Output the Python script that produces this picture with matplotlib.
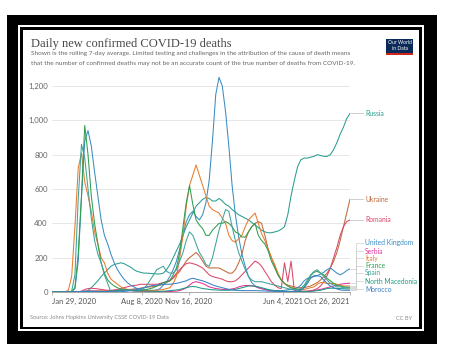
import numpy as np
import pandas as pd
import matplotlib
matplotlib.use("Agg")
import matplotlib.pyplot as plt
from matplotlib.patches import Rectangle

# weekly samples, Jan 29 2020 -> Oct 26 2021 (7-day avg deaths)
dates = pd.date_range("2020-01-29", "2021-10-26", periods=92)

italy = [0, 0, 0, 0, 0.5, 10, 90, 380, 720, 810,
         640, 560, 470, 350, 280, 200, 170, 110, 75, 60,
         45, 30, 20, 15, 12, 10, 8, 7, 6, 7,
         9, 8, 10, 12, 15, 20, 25, 50, 90, 200,
         330, 500, 620, 680, 740, 680, 620, 560, 500, 480,
         470, 460, 430, 400, 330, 300, 290, 310, 330, 380,
         420, 440, 460, 400, 340, 300, 250, 200, 160, 110,
         70, 50, 35, 25, 20, 15, 12, 15, 20, 25,
         30, 45, 55, 55, 50, 50, 50, 45, 40, 35,
         35, 35]
uk = [0, 0, 0, 0, 0, 0, 1, 20, 180, 550,
      880, 940, 850, 700, 560, 420, 330, 280, 220, 170,
      130, 100, 75, 55, 40, 30, 20, 15, 12, 10,
      10, 10, 12, 20, 40, 60, 90, 130, 180, 250,
      330, 410, 450, 470, 440, 420, 450, 520, 650, 880,
      1150, 1250, 1200, 1050, 850, 620, 450, 320, 220, 150,
      90, 55, 35, 25, 20, 15, 12, 10, 9, 9,
      8, 10, 13, 17, 18, 25, 40, 65, 80, 85,
      90, 95, 105, 115, 130, 140, 125, 110, 100, 110,
      125, 135]
france = [0, 0, 0, 0, 0, 0, 3, 25, 220, 560,
          970, 800, 560, 400, 280, 170, 110, 70, 50, 35,
          25, 15, 15, 12, 10, 10, 10, 10, 12, 15,
          20, 25, 35, 45, 55, 60, 65, 100, 140, 230,
          380, 520, 620, 510, 420, 390, 370, 330, 330, 360,
          380, 400, 400, 410, 400, 380, 350, 340, 320, 320,
          350, 380, 400, 330, 300, 280, 240, 180, 140, 100,
          70, 50, 35, 25, 20, 15, 15, 30, 60, 95,
          115, 120, 110, 100, 80, 65, 50, 40, 35, 30,
          28, 28]
spain = [0, 0, 0, 0, 0, 0, 5, 100, 540, 860,
         780, 600, 430, 300, 220, 170, 100, 50, 0, 5,
         10, 15, 15, 10, 10, 5, 5, 10, 20, 40,
         70, 100, 130, 140, 150, 120, 110, 110, 130, 180,
         230, 300, 350, 330, 280, 230, 200, 160, 150, 200,
         280, 360, 420, 480, 470, 380, 300, 230, 180, 130,
         90, 70, 60, 60, 60, 55, 50, 45, 40, 35,
         30, 25, 20, 15, 15, 15, 20, 40, 70, 100,
         120, 130, 110, 90, 70, 50, 40, 30, 30, 25,
         25, 25]
russia = [0, 0, 0, 0, 0, 0, 0, 0, 0, 0.5,
          2, 8, 25, 45, 65, 90, 110, 130, 150, 160,
          165, 170, 165, 155, 145, 130, 120, 115, 110, 110,
          108, 107, 105, 105, 110, 130, 160, 200, 240, 280,
          330, 380, 420, 460, 500, 520, 540, 550, 545, 530,
          530, 545, 530, 510, 500, 480, 465, 450, 440, 430,
          420, 405, 390, 375, 360, 350, 345, 345, 350, 355,
          365, 380, 450, 560, 650, 730, 770, 780, 780, 785,
          790, 800, 795, 790, 790, 800, 830, 870, 920, 960,
          1010, 1040]
ukraine = [0, 0, 0, 0, 0, 0, 0, 0, 0, 1,
           3, 4, 5, 6, 7, 7, 7, 7, 8, 9,
           10, 12, 15, 15, 15, 18, 20, 22, 25, 28,
           30, 33, 35, 40, 45, 55, 65, 80, 100, 120,
           150, 180, 200, 215, 230, 210, 180, 150, 140, 140,
           140, 140, 130, 120, 110, 110, 130, 170, 220, 300,
           350, 380, 400, 410, 400, 330, 250, 200, 150, 100,
           70, 50, 40, 35, 30, 25, 25, 25, 30, 35,
           45, 55, 70, 90, 110, 140, 180, 230, 300, 380,
           460, 540]
romania = [0, 0, 0, 0, 0, 0, 0, 0, 1, 5,
           15, 20, 22, 20, 18, 15, 12, 10, 10, 12,
           15, 20, 25, 30, 35, 38, 40, 45, 45, 45,
           45, 45, 45, 50, 55, 60, 70, 85, 110, 130,
           150, 165, 170, 165, 160, 150, 140, 120, 100, 90,
           85, 80, 75, 65, 60, 60, 65, 80, 100, 120,
           140, 160, 180, 170, 150, 120, 90, 60, 40, 25,
           20, 170, 60, 180, 10, 5, 5, 5, 6, 8,
           12, 20, 35, 60, 95, 140, 200, 260, 330, 380,
           410, 420]
serbia = [0, 0, 0, 0, 0, 0, 0, 0, 0, 2,
          4, 5, 5, 4, 3, 2, 1, 1, 1, 3,
          5, 8, 10, 12, 8, 6, 5, 4, 3, 3,
          2, 2, 2, 2, 2, 3, 3, 4, 5, 8,
          15, 25, 40, 55, 60, 55, 50, 40, 30, 25,
          20, 18, 15, 15, 15, 18, 22, 30, 35, 38,
          38, 36, 32, 25, 20, 15, 10, 7, 5, 4,
          3, 3, 2, 2, 2, 2, 2, 2, 3, 5,
          8, 12, 15, 20, 25, 30, 35, 40, 45, 48,
          50, 52]
north_macedonia = [0, 0, 0, 0, 0, 0, 0, 0, 0, 1,
                   2, 3, 3, 3, 2, 2, 2, 3, 5, 6,
                   8, 10, 12, 12, 10, 9, 8, 7, 6, 5,
                   5, 4, 4, 4, 5, 6, 8, 10, 12, 15,
                   20, 25, 30, 32, 30, 25, 20, 18, 15, 13,
                   12, 11, 10, 10, 10, 12, 15, 20, 25, 30,
                   35, 35, 35, 30, 25, 20, 15, 10, 8, 6,
                   5, 4, 3, 2, 2, 2, 2, 2, 3, 4,
                   5, 8, 10, 15, 20, 22, 22, 21, 20, 19,
                   18, 18]
morocco = [0, 0, 0, 0, 0, 0, 0, 0, 1, 3,
           5, 5, 4, 4, 3, 3, 2, 2, 1, 1,
           1, 2, 3, 5, 8, 12, 15, 20, 25, 30,
           35, 38, 40, 42, 45, 45, 45, 48, 50, 55,
           60, 65, 75, 80, 75, 70, 65, 58, 50, 42,
           35, 30, 25, 20, 15, 12, 10, 9, 8, 8,
           8, 8, 8, 7, 7, 6, 5, 5, 4, 4,
           3, 3, 4, 4, 5, 7, 10, 25, 50, 80,
           95, 95, 90, 70, 50, 35, 25, 18, 12, 10,
           10, 10]

series = {
    "Russia": (russia, "#2a9d8f"),
    "Ukraine": (ukraine, "#c0693a"),
    "Romania": (romania, "#d9476b"),
    "United Kingdom": (uk, "#3a8dc2"),
    "Serbia": (serbia, "#e0359b"),
    "Italy": (italy, "#ea7b2c"),
    "France": (france, "#2e9e4f"),
    "Spain": (spain, "#3fa39a"),
    "North Macedonia": (north_macedonia, "#1f9a86"),
    "Morocco": (morocco, "#3a7fc4"),
}
label_y = {"Russia": None, "Ukraine": None, "Romania": None,
           "United Kingdom": 243, "Serbia": 251, "Italy": 258, "France": 266,
           "Spain": 273, "North Macedonia": 281, "Morocco": 289}

yticks = [0, 200, 400, 600, 800, 1000, 1200]
xtick_dates = ["2020-01-29", "2020-08-08", "2020-11-16", "2021-06-04", "2021-10-26"]
xtick_labels = ["Jan 29, 2020", "Aug 8, 2020", "Nov 16, 2020", "Jun 4, 2021", "Oct 26, 2021"]

W, H = 449, 361
fig = plt.figure(figsize=(W / 100, H / 100), dpi=100)
fig.patch.set_facecolor("white")


def px(x, y):
    return x / W, 1 - y / H


def frame(x0, y0, x1, y1, color, z):
    fx, fy = px(x0, y1)
    fig.add_artist(Rectangle((fx, fy), (x1 - x0) / W, (y1 - y0) / H,
                             transform=fig.transFigure, facecolor=color,
                             edgecolor="none", zorder=z))


frame(7, 15, 437, 344, "black", -10)
frame(18, 25, 424, 331, "white", -9)
frame(20, 27, 421.5, 329, "black", -8)
frame(23, 30, 419, 327, "white", -7)

ax_l, ax_r, ax_b = 52, 350, 292
ymax = 1260
ax_t = ax_b - ymax * 0.1717
ax = fig.add_axes([ax_l / W, 1 - ax_b / H, (ax_r - ax_l) / W, (ax_b - ax_t) / H])
ax.patch.set_alpha(0)

for name, (vals, col) in series.items():
    ax.plot(dates, vals, color=col, lw=0.75, solid_joinstyle="round")

x0, x1 = pd.Timestamp("2020-01-29"), pd.Timestamp("2021-10-26")
ax.set_xlim(x0, x1)
ax.set_ylim(0, ymax)
for s in ["top", "right", "left"]:
    ax.spines[s].set_visible(False)
ax.spines["bottom"].set_color("#9a9a9a")
ax.spines["bottom"].set_linewidth(0.6)
ax.set_yticks(yticks)
ax.set_yticklabels([f"{v:,}" for v in yticks])
ax.tick_params(axis="y", length=0, pad=3, labelsize=5.6, labelcolor="#666666")
ax.grid(axis="y", color="#e3e3e3", lw=0.6)
ax.set_axisbelow(True)
ax.set_xticks(pd.to_datetime(xtick_dates))
ax.set_xticklabels(xtick_labels)
ax.tick_params(axis="x", length=2.5, width=0.5, color="#9a9a9a", pad=2,
               labelsize=5.6, labelcolor="#555555")
tl = ax.get_xticklabels()
tl[0].set_ha("left")
tl[-1].set_ha("right")
for t in ax.get_xticklabels() + ax.get_yticklabels():
    t.set_family("Lato")

# end labels with connectors
for name, (vals, col) in series.items():
    yend = vals[-1]
    ye_px = ax_b - yend * 0.1717
    ly = label_y[name] if label_y[name] is not None else ye_px
    if label_y[name] is None:
        fig.add_artist(plt.Line2D([px(350, 0)[0], px(363, 0)[0]], [px(0, ye_px)[1]] * 2,
                                  transform=fig.transFigure, color="#bbbbbb", lw=0.5))
    else:
        xs = [350, 356, 356, 363]
        ys = [ye_px, ye_px, ly, ly]
        fig.add_artist(plt.Line2D([x / W for x in xs], [1 - y / H for y in ys],
                                  transform=fig.transFigure, color="#cccccc", lw=0.5))
    fig.text(365 / W, 1 - ly / H, name, color=col, fontsize=4.9, family="Lato",
             ha="left", va="center")

fig.text(31 / W, 1 - 47 / H, "Daily new confirmed COVID-19 deaths", fontsize=9.0,
         family="Liberation Serif", color="#4a4a4a", ha="left", va="baseline")
fig.text(31 / W, 1 - 54 / H,
         "Shown is the rolling 7-day average. Limited testing and challenges in the attribution of the cause of death means",
         fontsize=4.65, family="Lato", color="#666666", ha="left", va="center")
fig.text(31 / W, 1 - 64 / H,
         "that the number of confirmed deaths may not be an accurate count of the true number of deaths from COVID-19.",
         fontsize=4.65, family="Lato", color="#666666", ha="left", va="center")
fig.text(30 / W, 1 - 318 / H, "Source: Johns Hopkins University CSSE COVID-19 Data",
         fontsize=4.1, family="Lato", color="#8a8a8a", ha="left", va="center")
fig.text(412 / W, 1 - 318 / H, "CC BY", fontsize=4.1, family="Lato", color="#8a8a8a",
         ha="right", va="center")

# logo
frame(386, 39, 413, 53, "#0b2a5a", 5)
frame(386, 53, 413, 55, "#ce261e", 5)
fig.text(399.5 / W, 1 - 43 / H, "Our World", fontsize=3.6, family="Lato", color="white",
         ha="center", va="center", zorder=6)
fig.text(399.5 / W, 1 - 49 / H, "in Data", fontsize=3.6, family="Lato", color="white",
         ha="center", va="center", zorder=6)

fig.savefig("out.png", dpi=100)
